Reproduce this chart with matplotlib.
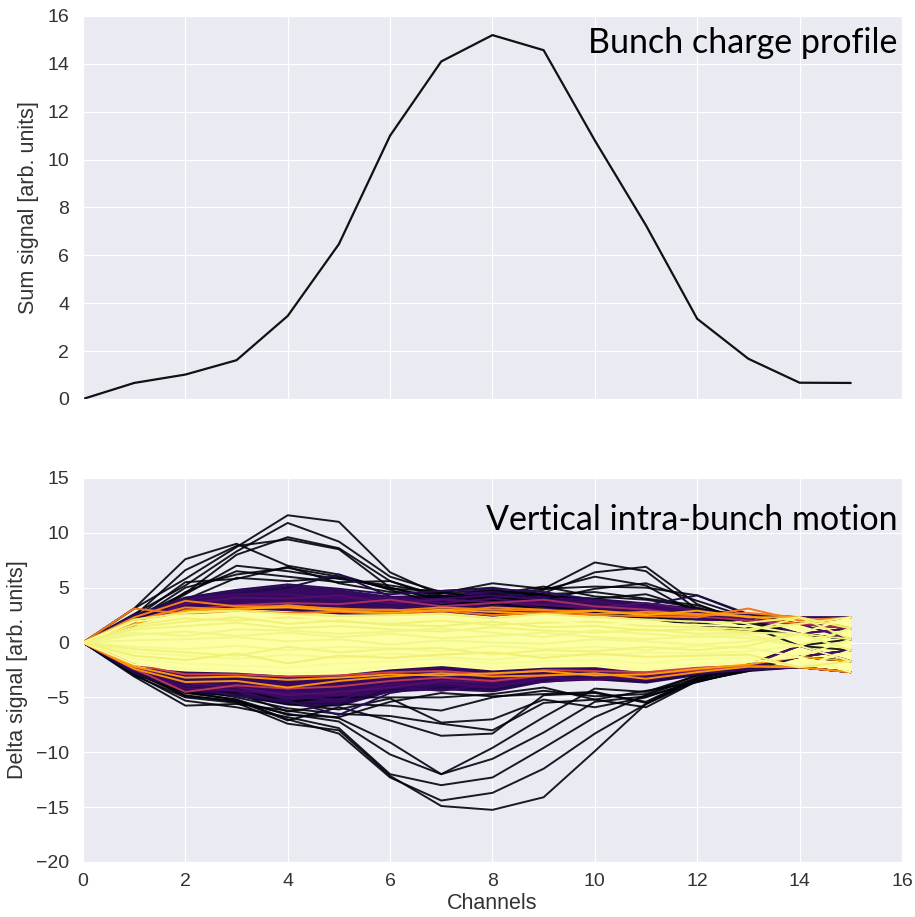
import numpy as np
import matplotlib
matplotlib.use("Agg")
import matplotlib.pyplot as plt
import seaborn as sns

# 通道与电荷分布
channels = np.arange(16)
sum_signal = [0, 0.67, 1.02, 1.62, 3.47, 6.47, 11.0, 14.1, 15.2, 14.57, 10.8, 7.25, 3.35, 1.68, 0.68, 0.67]

# 大幅度的轨迹 (黑色)
black_traces = [
    [0, 3.1, 5.8, 8.7, 11.6, 11.0, 6.4, 4.3, 3.6, 3.0, 2.6, 2.2, 1.6, 1.0, 0.8, 0.3],
    [0, 2.6, 5.2, 8.3, 10.9, 9.2, 6.0, 4.6, 3.9, 3.3, 2.8, 2.4, 1.8, 1.2, 0.8, 0.3],
    [0, 2.2, 4.5, 8.0, 9.6, 8.6, 5.6, 4.0, 4.2, 4.9, 7.3, 6.5, 3.0, 1.4, 0.8, 1.3],
    [0, 3.1, 7.6, 9.0, 7.0, 6.2, 4.8, 3.5, 3.8, 4.5, 6.4, 6.9, 3.5, 1.8, 0.8, 0.3],
    [0, 2.4, 6.6, 8.8, 9.4, 8.5, 5.0, 3.8, 3.5, 4.8, 6.0, 5.2, 2.6, 1.5, -0.3, 0.3],
    [0, 1.8, 4.4, 7.0, 6.5, 5.8, 5.2, 4.5, 5.4, 4.9, 5.1, 5.0, 4.3, 2.6, 1.7, 1.3],
    [0, 2.0, 5.0, 6.2, 6.8, 6.0, 4.9, 4.7, 5.0, 4.4, 4.6, 4.0, 3.4, 2.0, 0.8, 0.3],
    [0, 1.5, 4.6, 6.5, 6.0, 5.5, 5.6, 4.2, 4.0, 3.9, 4.9, 5.4, 3.8, 2.3, 1.7, 1.3],
    [0, 2.2, 5.5, 5.8, 6.9, 5.4, 4.6, 4.5, 4.8, 4.3, 4.0, 4.4, 3.0, 2.1, 0.8, 0.3],
    [0, 1.7, 3.9, 5.9, 5.6, 5.9, 5.0, 4.0, 4.4, 5.1, 4.2, 3.9, 3.2, 1.9, 1.7, 2.3],
    [0, -3.0, -5.0, -5.5, -7.4, -8.0, -12.15, -14.9, -15.25, -14.1, -9.9, -5.6, -3.5, -2.6, -1.3, -1.7],
    [0, -2.8, -4.6, -5.2, -7.0, -8.3, -12.3, -14.4, -13.7, -11.5, -8.3, -5.6, -3.3, -2.4, -2.25, -2.7],
    [0, -2.9, -5.3, -5.9, -6.8, -7.8, -12.0, -13.0, -12.3, -9.6, -6.8, -4.8, -3.2, -2.2, -1.3, -0.7],
    [0, -2.6, -4.8, -5.4, -6.5, -7.2, -10.2, -12.0, -9.6, -6.8, -4.2, -4.5, -3.0, -2.0, -0.3, -0.7],
    [0, -3.1, -5.75, -5.6, -6.2, -6.9, -9.1, -12.0, -10.6, -8.2, -5.4, -4.9, -3.6, -2.5, -2.25, -2.7],
    [0, -2.7, -4.9, -5.3, -7.1, -5.9, -7.1, -8.5, -8.3, -4.8, -4.6, -5.4, -3.2, -2.0, -1.3, -1.7],
    [0, -2.4, -4.2, -5.0, -6.0, -6.5, -6.7, -7.4, -8.0, -5.5, -5.2, -5.9, -3.5, -2.6, -2.25, -2.7],
    [0, -2.5, -4.4, -4.8, -5.6, -6.1, -5.1, -7.3, -7.0, -5.2, -5.9, -5.0, -3.4, -2.1, -1.3, -0.7],
    [0, -2.3, -4.0, -4.6, -6.3, -5.6, -5.75, -6.2, -5.0, -4.4, -4.9, -4.7, -3.0, -2.0, -0.3, -1.7],
    [0, -2.2, -3.8, -4.2, -5.4, -5.0, -5.0, -5.0, -4.7, -4.1, -5.2, -4.4, -3.6, -2.4, -2.25, -2.7],
    [0, -2.6, -4.5, -5.2, -6.6, -6.8, -5.4, -4.6, -4.9, -4.7, -4.5, -5.5, -3.3, -2.3, -1.3, -1.7],
]

# 中等幅度 (紫色)
purple_traces = [
    [0, 2.2, 3.8, 4.5, 5.0, 6.2, 4.2, 3.5, 4.6, 4.0, 3.6, 3.4, 4.3, 2.5, 2.3, 2.3],
    [0, 2.5, 4.1, 4.8, 5.3, 4.9, 4.4, 4.7, 4.9, 4.6, 3.9, 3.5, 3.0, 2.3, 1.7, 1.3],
    [0, 2.0, 3.6, 4.2, 4.7, 4.4, 3.8, 4.0, 4.3, 3.9, 3.6, 3.3, 2.8, 2.6, 2.3, 2.3],
    [0, 2.3, 3.9, 4.4, 4.4, 4.0, 4.1, 3.6, 4.0, 3.5, 3.8, 3.1, 2.6, 2.2, 0.8, 1.3],
    [0, 1.9, 3.5, 4.1, 4.0, 4.3, 3.6, 3.9, 3.7, 3.4, 3.2, 3.6, 2.9, 2.0, 1.7, 0.3],
    [0, -2.8, -4.4, -4.7, -5.5, -5.6, -4.3, -4.1, -4.3, -3.5, -3.3, -3.6, -2.9, -2.4, -2.25, -2.7],
    [0, -2.6, -4.0, -4.9, -5.3, -6.6, -4.6, -3.9, -4.0, -3.3, -3.1, -3.3, -2.7, -2.3, -1.3, -1.7],
    [0, -2.4, -3.9, -4.3, -5.0, -5.2, -4.0, -4.4, -3.8, -3.6, -3.2, -3.4, -2.8, -2.5, -2.25, -2.7],
    [0, -2.5, -4.2, -4.4, -4.6, -4.8, -3.8, -3.7, -4.1, -3.2, -3.4, -3.1, -2.6, -2.2, -1.3, -0.7],
    [0, -2.2, -3.7, -4.1, -4.8, -4.5, -4.1, -3.5, -3.6, -3.0, -2.9, -3.2, -2.5, -2.1, -0.3, -1.7],
]

# 红色/橙色
red_traces = [
    [0, 2.0, 3.0, 3.4, 3.6, 3.5, 3.9, 3.3, 3.6, 3.9, 3.3, 3.0, 2.4, 2.0, 1.7, 1.3],
    [0, -2.4, -4.5, -3.9, -4.2, -4.0, -3.5, -3.2, -3.5, -3.0, -2.9, -2.9, -2.5, -2.1, -2.25, -2.7],
    [0, -2.0, -2.9, -2.9, -3.1, -3.0, -2.7, -2.6, -2.9, -2.5, -2.6, -2.7, -2.3, -2.1, -2.25, -2.7],
]
orange_traces = [
    [0, 3.1, 2.6, 2.9, 2.7, 2.8, 2.6, 2.9, 2.5, 2.7, 2.5, 2.4, 2.3, 3.1, 2.0, 2.3],
    [0, 2.3, 3.8, 3.3, 3.3, 3.1, 2.9, 3.2, 3.0, 2.9, 2.9, 2.6, 2.5, 2.7, 2.3, 1.3],
    [0, 2.0, 3.2, 3.0, 3.4, 3.0, 3.0, 2.8, 3.2, 3.0, 2.6, 2.8, 2.6, 2.4, 1.7, 2.3],
    [0, -2.4, -3.6, -3.5, -4.1, -3.5, -3.1, -2.8, -3.1, -3.0, -2.8, -3.3, -2.7, -2.2, -2.25, -2.7],
    [0, -2.2, -3.2, -3.1, -3.4, -3.2, -2.9, -3.0, -2.8, -2.6, -3.0, -2.9, -2.4, -2.0, -1.3, -1.7],
    [0, 1.7, 2.9, 3.1, 3.2, 2.9, 2.7, 3.0, 2.8, 2.6, 2.9, 2.5, 2.9, 2.3, 2.3, 1.3],
]

# 小幅度 (黄色)
yellow_traces = [
    [0, 2.1, 2.7, 2.9, 2.6, 2.4, 2.5, 2.6, 2.2, 2.6, 2.3, 2.1, 1.9, 1.8, 2.3, 1.3],
    [0, 1.6, 2.2, 2.0, 2.3, 1.9, 1.7, 2.0, 1.6, 1.8, 1.9, 1.5, 1.4, 1.2, 1.7, 2.3],
    [0, 1.2, 1.5, 1.8, 1.3, 1.5, 1.2, 1.0, 1.4, 1.1, 0.9, 1.2, 0.8, 0.9, 0.8, 0.3],
    [0, 0.7, 1.0, 0.6, 0.9, 0.5, 0.8, 0.4, 0.6, 0.9, 0.5, 0.3, 0.6, 0.4, -0.3, 1.3],
    [0, 0.2, 0.3, 0.5, 0.1, 0.3, -0.2, 0.2, 0.0, -0.1, 0.3, 0.1, -0.2, 0.1, 0.8, -0.7],
    [0, -0.4, -0.6, -0.3, -0.7, -0.4, -0.5, -0.8, -0.3, -0.6, -0.4, -0.7, -0.3, -0.5, -1.3, 0.3],
    [0, -0.9, -1.2, -1.5, -1.1, -1.4, -1.0, -1.3, -1.6, -1.1, -1.2, -0.9, -1.0, -0.8, -0.3, -1.7],
    [0, -1.5, -1.9, -2.1, -2.3, -1.9, -1.7, -1.5, -1.9, -1.7, -1.6, -1.9, -1.5, -1.4, -2.25, -0.7],
    [0, -2.0, -2.4, -2.5, -2.8, -2.6, -2.2, -1.9, -2.3, -2.0, -2.0, -2.5, -2.0, -1.8, -1.3, -2.7],
    [0, 1.9, 2.5, 2.4, 2.0, 2.2, 2.0, 2.3, 1.9, 2.1, 1.6, 1.8, 1.6, 1.5, 0.8, 2.3],
    [0, -1.2, -1.6, -1.0, -1.9, -1.2, -1.4, -1.1, -0.9, -1.4, -1.0, -1.3, -1.2, -1.1, -2.25, -1.7],
    [0, 1.4, 1.9, 2.3, 1.7, 2.0, 1.6, 1.5, 1.9, 1.4, 1.5, 1.1, 1.2, 1.0, 2.3, 0.3],
    [0, -0.6, -0.9, -1.2, -0.4, -0.9, -0.6, -0.5, -1.1, -0.7, -0.8, -0.4, -0.7, -0.3, 0.8, -0.7],
    [0, 0.9, 0.6, 1.2, 1.1, 0.8, 1.0, 1.3, 0.9, 0.5, 1.1, 0.8, 0.5, 0.7, -0.3, 1.3],
]

# 密集区域的包络
purple_hi = [0, 2.6, 4.2, 4.9, 5.3, 4.9, 4.3, 4.4, 4.9, 4.4, 4.1, 3.7, 3.2, 2.6, 2.3, 2.3]
purple_lo = [0, -2.9, -4.6, -4.9, -5.7, -5.8, -4.5, -4.3, -4.5, -3.6, -3.4, -3.7, -3.0, -2.5, -2.6, -2.7]
yellow_hi = [0, 2.3, 2.9, 3.1, 2.9, 2.6, 2.6, 2.8, 2.4, 2.8, 2.5, 2.3, 2.0, 2.0, 2.2, 2.2]
yellow_lo = [0, -2.2, -2.6, -2.7, -3.0, -2.9, -2.4, -2.1, -2.5, -2.25, -2.2, -2.7, -2.2, -2.0, -2.2, -2.6]

sns.set_style("darkgrid")
plt.rcParams['font.family'] = ['Liberation Sans', 'DejaVu Sans']
cmap = plt.cm.inferno

fig = plt.figure(figsize=(9.15, 9.17), dpi=100)
ax1 = fig.add_axes([0.0907, 0.5649, 0.895, 0.4177])
ax2 = fig.add_axes([0.0907, 0.06, 0.895, 0.4188])

# 上图: 电荷分布
ax1.plot(channels, sum_signal, color='#111111', lw=1.6)
ax1.set_xlim(0, 16)
ax1.set_ylim(0, 16)
ax1.set_xticks(range(0, 17, 2))
ax1.set_xticklabels([])
ax1.set_yticks(range(0, 17, 2))
ax1.set_ylabel('Sum signal [arb. units]', fontsize=15.5, color='#333333')
ax1.text(0.995, 0.903, 'Bunch charge profile', transform=ax1.transAxes,
         ha='right', va='baseline', fontsize=24.5, family='Lato', color='black')

# 下图: 竖直束内运动
lw = 1.4
ax2.fill_between(channels[:14], purple_lo[:14], purple_hi[:14], color=cmap(0.17), lw=0)
for tr in black_traces:
    ax2.plot(channels, tr, color=cmap(0.02), lw=lw, alpha=0.9)
for i, tr in enumerate(purple_traces):
    ax2.plot(channels, tr, color=cmap(0.12 + 0.03 * (i % 5)), lw=lw)
for i, tr in enumerate(red_traces):
    ax2.plot(channels, tr, color=cmap(0.45 + 0.05 * i), lw=lw)
for i, tr in enumerate(orange_traces):
    ax2.plot(channels, tr, color=cmap(0.7 + 0.02 * i), lw=lw)
ax2.fill_between(channels, yellow_lo, yellow_hi, color=cmap(1.0), lw=0)
for i, tr in enumerate(yellow_traces):
    ax2.plot(channels, tr, color=cmap(0.95 + 0.005 * (i % 10)), lw=lw)

ax2.set_xlim(0, 16)
ax2.set_ylim(-20, 15)
ax2.set_xticks(range(0, 17, 2))
ax2.set_yticks(range(-20, 16, 5))
ax2.set_xlabel('Channels', fontsize=15.5, color='#333333')
ax2.set_ylabel('Delta signal [arb. units]', fontsize=15.5, color='#333333')
ax2.text(0.995, 0.865, 'Vertical intra-bunch motion', transform=ax2.transAxes,
         ha='right', va='baseline', fontsize=24.5, family='Lato', color='black')

for ax in (ax1, ax2):
    ax.tick_params(labelsize=14, colors='#333333', length=0)
    ax.tick_params(axis='y', pad=10)
    ax.tick_params(axis='x', pad=8)
    ax.yaxis.labelpad = 6
ax2.xaxis.labelpad = 2

fig.savefig('out.png', dpi=100)
